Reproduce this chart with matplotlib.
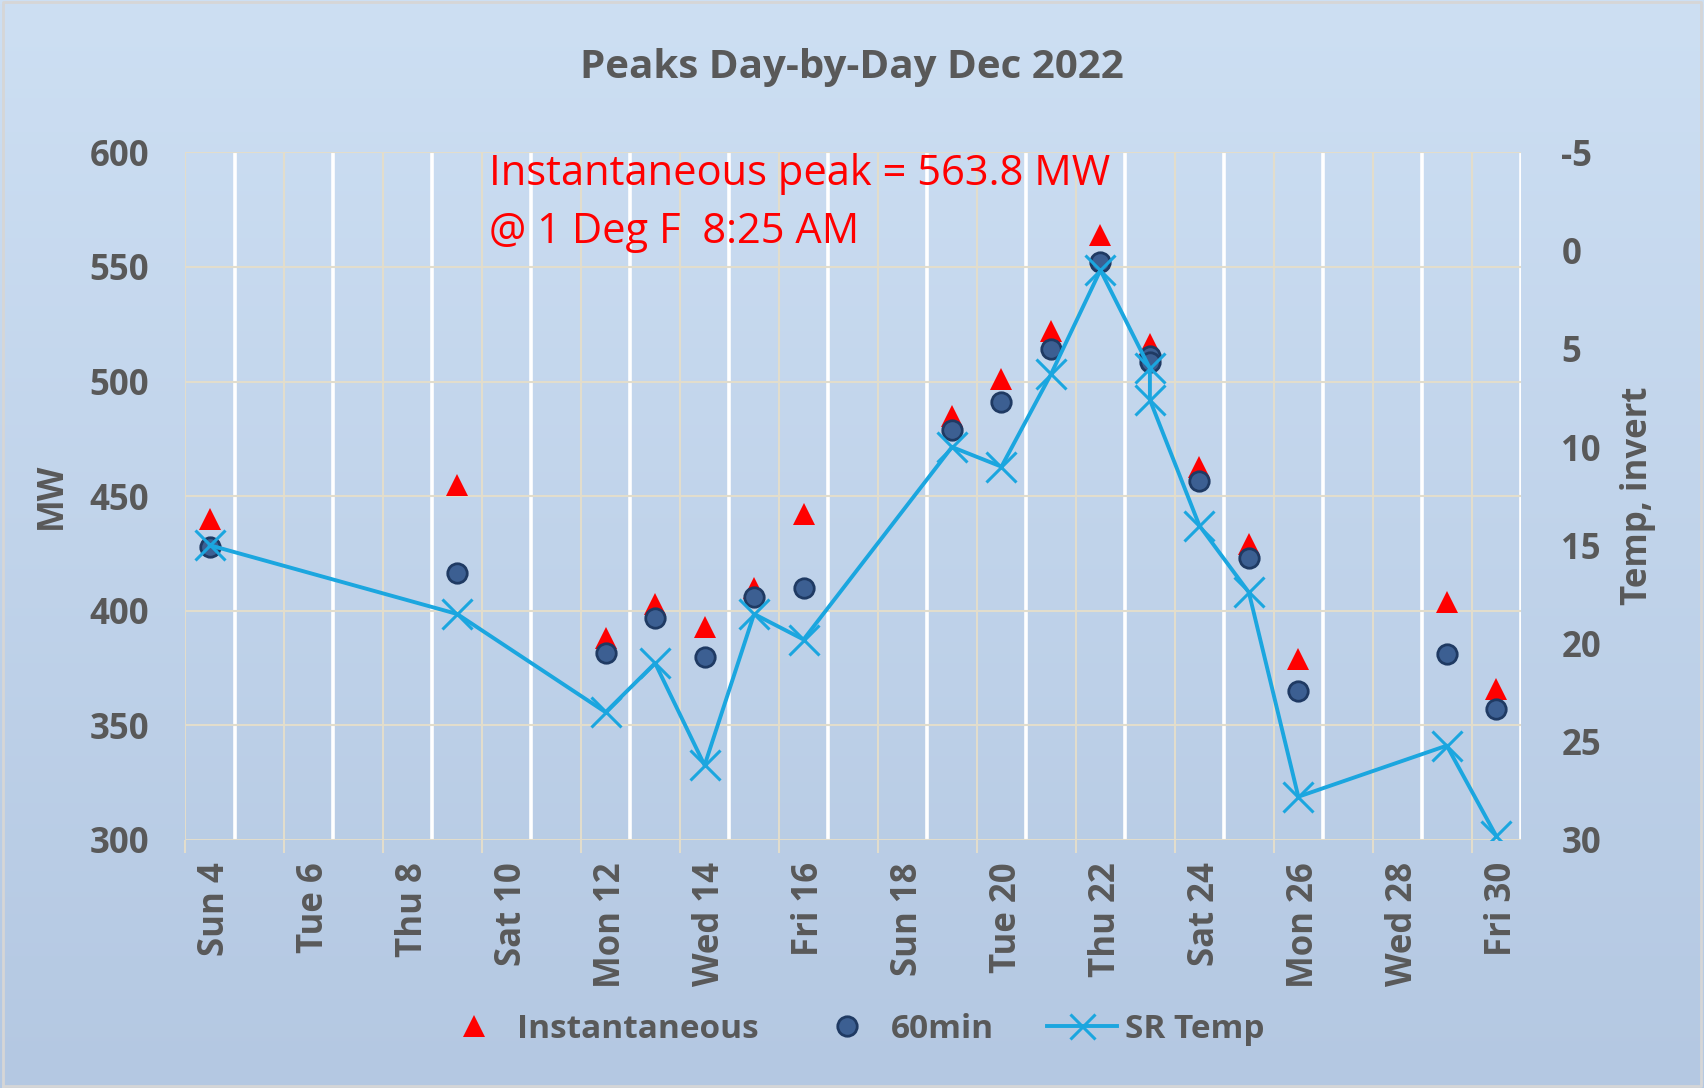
import numpy as np
import matplotlib
matplotlib.use("Agg")
import matplotlib.pyplot as plt
from matplotlib.lines import Line2D
from matplotlib.colors import LinearSegmentedColormap
from matplotlib.transforms import ScaledTranslation

plt.rcParams['font.family'] = ['Open Sans', 'DejaVu Sans']
plt.rcParams['axes.unicode_minus'] = False

# December 2022 days for each reading (23rd has two readings)
days = [4, 9, 12, 13, 14, 15, 16, 19, 20, 21, 22, 23, 23, 24, 25, 26, 29, 30]
inst_mw = [440, 455, 388, 403, 393, 410, 442, 485, 501, 522, 563.8, 516.5, 514,
           462.5, 429, 379, 404, 366]
min60_mw = [428, 416.5, 381.5, 397, 380, 406, 410, 479, 491, 514, 552, 511, 508.5,
            456.5, 423, 365, 381, 357]
sr_temp = [15, 18.5, 23.5, 21, 26.2, 18.5, 19.8, 10, 11, 6.3, 1, 6, 7.6,
           14, 17.4, 27.8, 25.2, 29.8]

tick_days = list(range(4, 31, 2))
tick_names = ["Sun 4", "Tue 6", "Thu 8", "Sat 10", "Mon 12", "Wed 14", "Fri 16",
              "Sun 18", "Tue 20", "Thu 22", "Sat 24", "Mon 26", "Wed 28", "Fri 30"]

GREY = "#595959"
FAINT = "#e2ddcc"
TEMP_C = "#1ba6df"

fig = plt.figure(figsize=(17.04, 10.88), dpi=100)

# background gradient
bg = fig.add_axes([0, 0, 1, 1], zorder=-10)
cmap = LinearSegmentedColormap.from_list("bg", ["#cddff3", "#b4c8e2"])
bg.imshow(np.linspace(0, 1, 256).reshape(-1, 1), aspect="auto", cmap=cmap,
          extent=[0, 1, 0, 1])
bg.plot([0.002, 0.998, 0.998, 0.002, 0.002], [0.002, 0.002, 0.998, 0.998, 0.002],
        color="#d6d6d6", lw=2)
bg.set_xlim(0, 1)
bg.set_ylim(0, 1)
bg.axis("off")

ax = fig.add_axes([0.1086, 0.228, 0.784, 0.632])
ax.set_facecolor("none")
ax.set_xlim(3.5, 30.5)
ax.set_ylim(300, 600)

# day boundary lines: faint at odd half-days, white at the others
for d in np.arange(3.5, 31, 2):
    ax.axvline(d, color=FAINT, lw=1.5, zorder=0)
for d in np.arange(4.5, 31, 2):
    ax.axvline(d, color="white", lw=2.6, zorder=0)
for y in range(300, 601, 50):
    ax.axhline(y, color=FAINT, lw=1.5, zorder=0)

for s in ax.spines.values():
    s.set_visible(False)

ax.set_xticks(tick_days)
ax.set_xticks(np.arange(3.5, 31, 2), minor=True)
ax.tick_params(axis="x", which="major", length=0, pad=16)
ax.tick_params(axis="x", which="minor", length=9, width=1.5, color=FAINT)
ax.set_xticklabels(tick_names, rotation=90, fontsize=25, fontweight="bold", color=GREY)
shift = ScaledTranslation(4 / 72, 0, fig.dpi_scale_trans)
for lab in ax.get_xticklabels():
    lab.set_transform(lab.get_transform() + shift)

ax.set_yticks(range(300, 601, 50))
ax.tick_params(axis="y", length=0, pad=26, labelsize=25, labelcolor=GREY)
for t in ax.get_yticklabels():
    t.set_fontweight("bold")
ax.set_ylabel("MW", fontsize=25, fontweight="bold", color=GREY, labelpad=14)

ax.plot(days, inst_mw, linestyle="none", marker="^", markersize=16,
        color="#ff0000", markeredgewidth=0, zorder=3)
ax.plot(days, min60_mw, linestyle="none", marker="o", markersize=14,
        markerfacecolor="#3c5f92", markeredgecolor="#1f3a63", markeredgewidth=2, zorder=4)

ax2 = ax.twinx()
ax2.set_ylim(30, -5)
ax2.set_yticks(range(-5, 31, 5))
for s in ax2.spines.values():
    s.set_visible(False)
ax2.tick_params(axis="y", length=0, pad=29, labelsize=25, labelcolor=GREY)
for t in ax2.get_yticklabels():
    t.set_fontweight("bold")
ax2.set_ylabel("Temp, invert", fontsize=25, fontweight="bold", color=GREY, labelpad=14)
ax2.plot(days, sr_temp, color=TEMP_C, lw=2.8, marker="x", markersize=22,
         markeredgewidth=2.2, zorder=5)

ax.text(0.2275, 0.968, "Instantaneous peak = 563.8 MW", transform=ax.transAxes,
        color="#ff0000", fontsize=30, va="center", ha="left")
ax.text(0.2275, 0.884, "@ 1 Deg F  8:25 AM", transform=ax.transAxes,
        color="#ff0000", fontsize=30, va="center", ha="left")

fig.text(0.5, 0.938, "Peaks Day-by-Day Dec 2022", ha="center", va="center",
         fontsize=29, fontweight="bold", color=GREY)

handles = [
    Line2D([], [], linestyle="none", marker="^", markersize=16, color="#ff0000",
           markeredgewidth=0),
    Line2D([], [], linestyle="none", marker="o", markersize=14,
           markerfacecolor="#3c5f92", markeredgecolor="#1f3a63", markeredgewidth=2),
    Line2D([], [], color=TEMP_C, lw=2.8, marker="x", markersize=18, markeredgewidth=2.2),
]
leg = fig.legend(handles, ["Instantaneous", "60min", "SR Temp"], loc="center",
                 bbox_to_anchor=(0.5, 0.054), ncol=3, frameon=False,
                 prop={"size": 24, "weight": "bold"}, handlelength=2.1,
                 columnspacing=1.6, handletextpad=0.25)
for t in leg.get_texts():
    t.set_color(GREY)

fig.savefig("out.png", dpi=100)
